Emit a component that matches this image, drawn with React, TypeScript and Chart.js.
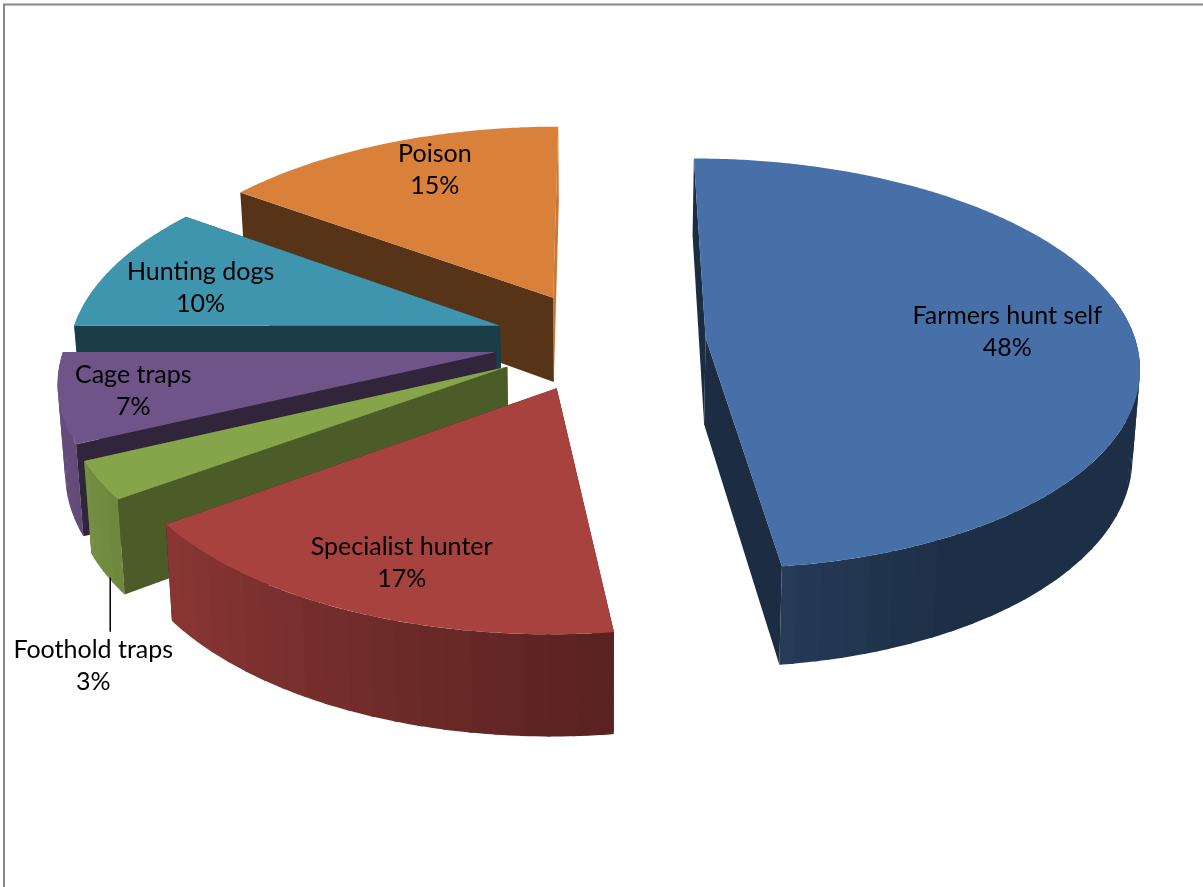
import React, { useEffect, useRef } from "react";
import { Chart, registerables } from "chart.js";

Chart.register(...registerables);

const categories = ["Farmers hunt self", "Specialist hunter", "Foothold traps", "Cage traps", "Hunting dogs", "Poison"];
const shares = [48, 17, 3, 7, 10, 15];
const colours = ["#4670A7", "#A8423F", "#86A44A", "#6F5489", "#3F95AE", "#D9813A"];
const wallShades = [0.4, 0.42, 0.56, 0.44, 0.41, 0.4];

const PERSPECTIVE = 0.125;
const SQUASH = 0.471;
const DEPTH = 86.5;
const DEPTH_SHRINK = 0.014;
const LABEL_RADIUS = 0.7;
const labelNudges: [number, number][] = [[4, 3], [-17, 25], [-134, 221], [-59, 7], [-26, 4], [2, -17]];
const LEADER_INDEX = 2;

function shade(hex: string, k: number) {
  const n = parseInt(hex.slice(1), 16);
  const c = [(n >> 16) & 255, (n >> 8) & 255, n & 255].map((v) => Math.round(v * k));
  return `rgb(${c[0]},${c[1]},${c[2]})`;
}

const outerShade = (deg: number) => Math.min(0.9, Math.max(0.42, 0.42 + (deg - 150) * 0.0049));

const pie3d = {
  id: "pie3d",
  beforeDatasetsDraw(chart: any) {
    const ctx: CanvasRenderingContext2D = chart.ctx;
    const arcs = chart.getDatasetMeta(0).data as any[];

    const geometry = arcs.map((arc) => {
      const R = arc.outerRadius;
      const e = arc.options.offset;
      const t1 = arc.startAngle + Math.PI / 2;
      const t2 = arc.endAngle + Math.PI / 2;
      const mid = (t1 + t2) / 2;
      const ox = e * Math.sin(mid);
      const oy = e * Math.cos(mid);
      const project = (r: number, t: number, z: number) => {
        const X = r * R * Math.sin(t) + ox;
        const Y = r * R * Math.cos(t) + oy;
        const f = 1 / (1 + (PERSPECTIVE * Y) / R);
        return {
          x: arc.x + X * f * (1 - DEPTH_SHRINK * z),
          y: arc.y - Y * SQUASH * f + z * DEPTH * f,
        };
      };
      return { t1, t2, mid, project };
    });

    const poly = (pts: { x: number; y: number }[], fill: string) => {
      ctx.beginPath();
      pts.forEach((p, i) => (i ? ctx.lineTo(p.x, p.y) : ctx.moveTo(p.x, p.y)));
      ctx.closePath();
      ctx.fillStyle = fill;
      ctx.fill();
    };

    const rad = Math.PI / 180;
    // Painter's order: the last slice sits furthest back
    for (let i = arcs.length - 1; i >= 0; i--) {
      const { t1, t2, project } = geometry[i];
      const col = arcs[i].options.backgroundColor;
      const dark = shade(col, wallShades[i]);

      const openingWall = () =>
        poly([project(0, t1, 0), project(1, t1, 0), project(1, t1, 1), project(0, t1, 1)], dark);
      const openingInFront = Math.sin(t1) < -0.1;

      // wall on the closing edge, only lit when it looks to the right
      const endLooksRight = Math.sin(t2 + Math.PI / 2) > 0.9;
      poly(
        [project(0, t2, 0), project(1, t2, 0), project(1, t2, 1), project(0, t2, 1)],
        endLooksRight ? shade(col, 0.92) : dark
      );
      if (!openingInFront) openingWall();

      // outer wall in bands, each overlapping the next to hide seams
      const visible = (t: number) => (Math.sin(t) > 0 ? Math.cos(t) < 0.2 : Math.cos(t) < 0.03);
      const bandWidth = 3;
      let deg = t1 / rad;
      const endDeg = t2 / rad;
      while (deg < endDeg - 1e-6) {
        const next = Math.min(endDeg, (Math.floor(deg / bandWidth) + 1) * bandWidth);
        if (visible(deg * rad) || visible(next * rad)) {
          const upTo = Math.min(endDeg, next + 0.5);
          const upper: { x: number; y: number }[] = [];
          const lower: { x: number; y: number }[] = [];
          for (let d = deg; d <= upTo + 1e-6; d += (upTo - deg) / 4) {
            upper.push(project(1, d * rad, 0));
            lower.unshift(project(1, d * rad, 1));
          }
          poly([...upper, ...lower], shade(col, outerShade(Math.floor(deg / bandWidth) * bandWidth)));
        }
        deg = next;
      }

      if (openingInFront) openingWall();

      // top face
      const top = [project(0, t1, 0)];
      for (let t = t1; t < t2; t += rad / 2) top.push(project(1, t, 0));
      top.push(project(1, t2, 0));
      poly(top, col);
    }

    // frame of the picture
    ctx.strokeStyle = "#888888";
    ctx.lineWidth = 2;
    ctx.beginPath();
    ctx.moveTo(4, 887);
    ctx.lineTo(4, 4.5);
    ctx.lineTo(1203, 4.5);
    ctx.stroke();

    // labels
    ctx.font = '25px Lato, "Open Sans", sans-serif';
    ctx.fillStyle = "#000000";
    ctx.textAlign = "center";
    ctx.textBaseline = "middle";
    arcs.forEach((_, i) => {
      const p = geometry[i].project(LABEL_RADIUS, geometry[i].mid, 0);
      const x = p.x + labelNudges[i][0];
      const y = p.y + labelNudges[i][1];
      ctx.fillText(chart.data.labels[i], x, y - 16);
      ctx.fillText(`${chart.data.datasets[0].data[i]}%`, x, y + 16);
      if (i === LEADER_INDEX) {
        ctx.strokeStyle = "#000000";
        ctx.lineWidth = 1.5;
        ctx.beginPath();
        ctx.moveTo(x + 17, y - 88);
        ctx.lineTo(x + 17, y - 34);
        ctx.stroke();
      }
    });
    return false;
  },
};

export default function App() {
  const ref = useRef<HTMLCanvasElement>(null);
  useEffect(() => {
    const chart = new Chart(ref.current!, {
      type: "pie",
      data: {
        labels: categories,
        datasets: [
          {
            data: shares,
            backgroundColor: colours,
            borderWidth: 0,
            offset: 106,
            radius: 430,
          } as any,
        ],
      },
      options: {
        responsive: false,
        animation: false,
        layout: { padding: { left: 0, right: 3, top: 0, bottom: 205 } },
        plugins: { legend: { display: false }, tooltip: { enabled: false } },
      },
      plugins: [pie3d],
    });
    return () => chart.destroy();
  }, []);
  return (
    <div style={{ position: "absolute", left: 0, top: 0, width: 1203, height: 887, background: "#fff" }}>
      <canvas ref={ref} width={1203} height={887} style={{ display: "block" }} />
    </div>
  );
}
